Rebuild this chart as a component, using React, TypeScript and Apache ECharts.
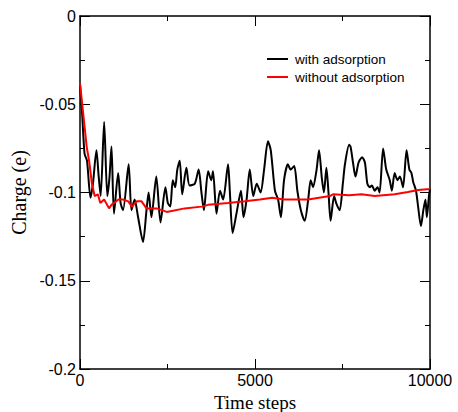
import React, { useEffect, useRef } from "react";
import * as echarts from "echarts";

const seriesNames = ["with adsorption", "without adsorption"];

const withT = [0, 60, 130, 200, 300, 370, 470, 530, 590, 690, 780, 840, 900, 970, 1090, 1160, 1230, 1390, 1470, 1560, 1660, 1800, 1900, 1960, 2040, 2180, 2300, 2440, 2510, 2580, 2650, 2720, 2780, 2850, 2920, 3040, 3130, 3280, 3390, 3470, 3540, 3660, 3750, 3800, 3900, 4000, 4090, 4230, 4280, 4360, 4470, 4600, 4670, 4760, 4850, 4950, 5050, 5160, 5260, 5370, 5450, 5570, 5660, 5740, 5830, 5940, 6020, 6120, 6210, 6310, 6420, 6520, 6590, 6660, 6760, 6830, 6910, 6970, 7040, 7100, 7160, 7260, 7320, 7420, 7510, 7570, 7690, 7730, 7800, 7870, 7960, 8060, 8140, 8210, 8280, 8340, 8420, 8500, 8560, 8660, 8750, 8850, 8910, 8990, 9070, 9140, 9230, 9330, 9410, 9470, 9520, 9600, 9660, 9740, 9810, 9870, 9910, 9970, 10000];
const withV = [-0.039, -0.055, -0.078, -0.082, -0.103, -0.095, -0.076, -0.09, -0.102, -0.06, -0.102, -0.092, -0.074, -0.112, -0.089, -0.106, -0.11, -0.084, -0.11, -0.104, -0.114, -0.128, -0.11, -0.1, -0.114, -0.091, -0.117, -0.097, -0.106, -0.108, -0.093, -0.097, -0.087, -0.082, -0.101, -0.086, -0.096, -0.095, -0.087, -0.1, -0.11, -0.088, -0.093, -0.088, -0.112, -0.099, -0.104, -0.084, -0.099, -0.123, -0.112, -0.099, -0.114, -0.104, -0.087, -0.102, -0.095, -0.1, -0.087, -0.071, -0.076, -0.099, -0.104, -0.114, -0.093, -0.084, -0.087, -0.085, -0.099, -0.11, -0.116, -0.104, -0.093, -0.097, -0.087, -0.076, -0.092, -0.1, -0.086, -0.1, -0.116, -0.102, -0.106, -0.11, -0.095, -0.084, -0.073, -0.074, -0.083, -0.091, -0.083, -0.08, -0.083, -0.095, -0.097, -0.096, -0.099, -0.097, -0.1, -0.075, -0.087, -0.093, -0.099, -0.089, -0.093, -0.091, -0.097, -0.076, -0.087, -0.089, -0.094, -0.099, -0.108, -0.119, -0.11, -0.104, -0.114, -0.102, -0.098];

const withoutT = [0, 90, 190, 260, 340, 420, 510, 580, 690, 830, 900, 1100, 1230, 1380, 1480, 1620, 1760, 1900, 2190, 2480, 2990, 3470, 3660, 4230, 4710, 5140, 5490, 5830, 6520, 7140, 7230, 7690, 8040, 8420, 8990, 9370, 9660, 10000];
const withoutV = [-0.038, -0.055, -0.074, -0.082, -0.095, -0.102, -0.101, -0.106, -0.104, -0.109, -0.107, -0.104, -0.104, -0.105, -0.108, -0.105, -0.105, -0.109, -0.109, -0.111, -0.109, -0.108, -0.107, -0.106, -0.105, -0.104, -0.103, -0.104, -0.104, -0.102, -0.101, -0.1015, -0.101, -0.102, -0.101, -0.0997, -0.0986, -0.098];

const xTickValues = [0, 5000, 10000];
const yTickValues = [-0.2, -0.15, -0.1, -0.05, 0];

const sans = "'Liberation Sans', Arial, sans-serif";
const serif = "'Liberation Serif', 'Times New Roman', serif";

export default function App() {
  const ref = useRef<HTMLDivElement>(null);
  useEffect(() => {
    if (!ref.current) return;
    const chart = echarts.init(ref.current, undefined, { renderer: "svg" });
    const axisLine = { show: true, onZero: false, lineStyle: { color: "#000", width: 1.5 } };
    const tick = { show: true, inside: true, length: 10, lineStyle: { color: "#000", width: 1 } };
    const minor = { show: true, splitNumber: 2, length: 5, lineStyle: { color: "#000", width: 1 } };
    const label = { color: "#000", fontFamily: sans, fontSize: 16, hideOverlap: false };
    const fmt = (v: number) => String(Number(v.toFixed(4)));
    const xBase = { type: "value", min: xTickValues[0], max: xTickValues[xTickValues.length - 1], interval: 5000 };
    const yBase = { type: "value", min: yTickValues[0], max: yTickValues[yTickValues.length - 1], interval: 0.05 };
    chart.setOption({
      animation: false,
      backgroundColor: "#fff",
      grid: { left: 80, right: 28, top: 16, bottom: 43, containLabel: false, outerBoundsMode: "none" },
      legend: {
        orient: "vertical",
        left: 262,
        top: 47,
        itemWidth: 21,
        itemHeight: 2,
        itemGap: 4,
        icon: "rect",
        textStyle: { color: "#000", fontFamily: sans, fontSize: 13.5, lineHeight: 14, padding: [0, 0, 0, 2] },
        data: seriesNames,
      },
      xAxis: [
        {
          ...xBase,
          position: "bottom",
          axisLine,
          axisTick: { ...tick },
          minorTick: { ...minor },
          splitLine: { show: false },
          axisLabel: { ...label, margin: 3, formatter: fmt },
          name: "Time steps",
          nameLocation: "middle",
          nameGap: 20,
          nameTextStyle: { color: "#000", fontFamily: serif, fontSize: 19, lineHeight: 19 },
        },
        {
          ...xBase,
          position: "top",
          axisLine,
          axisTick: { ...tick },
          minorTick: { ...minor },
          splitLine: { show: false },
          axisLabel: { show: false },
        },
      ],
      yAxis: [
        {
          ...yBase,
          position: "left",
          axisLine,
          axisTick: { ...tick },
          minorTick: { ...minor },
          splitLine: { show: false },
          axisLabel: { ...label, margin: 4, formatter: fmt },
          name: "Charge (e)",
          nameLocation: "middle",
          nameGap: 48,
          nameTextStyle: { color: "#000", fontFamily: serif, fontSize: 20 },
        },
        {
          ...yBase,
          position: "right",
          axisLine,
          axisTick: { ...tick },
          minorTick: { ...minor },
          splitLine: { show: false },
          axisLabel: { show: false },
        },
      ],
      series: [
        {
          name: seriesNames[0],
          type: "line",
          data: withT.map((t, i) => [t, withV[i]]),
          showSymbol: false,
          smooth: 0.25,
          lineStyle: { color: "#000", width: 2 },
          itemStyle: { color: "#000" },
          z: 2,
        },
        {
          name: seriesNames[1],
          type: "line",
          data: withoutT.map((t, i) => [t, withoutV[i]]),
          showSymbol: false,
          lineStyle: { color: "#ff0000", width: 2 },
          itemStyle: { color: "#ff0000" },
          z: 3,
        },
      ],
    });
    return () => chart.dispose();
  }, []);
  return <div ref={ref} style={{ width: 458, height: 412, position: "absolute", left: 0, top: 0 }} />;
}
